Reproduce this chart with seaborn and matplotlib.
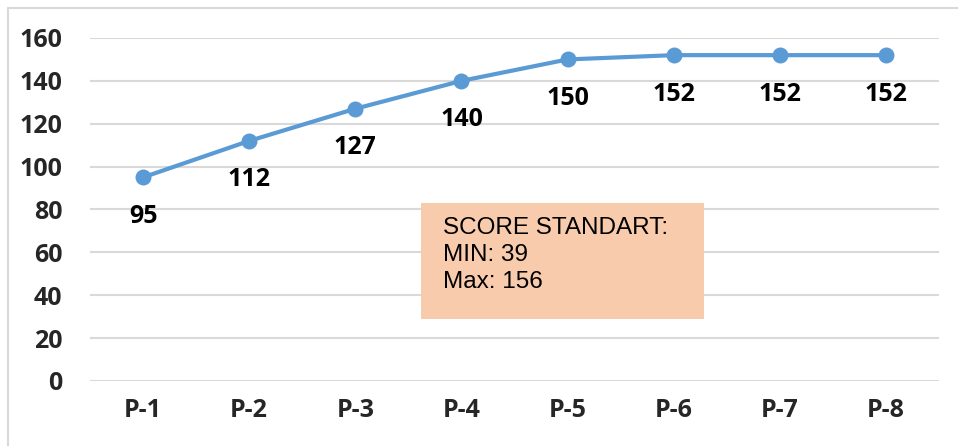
import numpy as np
import pandas as pd
import matplotlib
matplotlib.use('Agg')
import matplotlib.pyplot as plt
from matplotlib.lines import Line2D
import seaborn as sns

# Chart data
categories = ['P-1', 'P-2', 'P-3', 'P-4', 'P-5', 'P-6', 'P-7', 'P-8']
scores = [95, 112, 127, 140, 150, 152, 152, 152]
y_ticks = [0, 20, 40, 60, 80, 100, 120, 140, 160]
note_lines = ['SCORE STANDART:', 'MIN: 39', 'Max: 156']

df = pd.DataFrame({'x': np.arange(len(categories)), 'score': scores})

sns.set_style('white')
plt.rcParams['font.family'] = ['Open Sans', 'DejaVu Sans']

fig = plt.figure(figsize=(9.58, 4.46), dpi=100)
ax = fig.add_axes([90 / 958, 1 - 381 / 446, (939 - 90) / 958, (381 - 38) / 446])

line_color = '#5B9BD5'
sns.lineplot(data=df, x='x', y='score', ax=ax, color=line_color, linewidth=3,
             marker='o', markersize=11.5, markeredgewidth=0, zorder=3)

lab_size = 18

# Data labels below the points
for i, v in enumerate(scores):
    ax.annotate(str(v), (i, v), xytext=(0, -28), textcoords='offset points',
                ha='center', va='center', fontsize=lab_size, fontweight='bold', color='black')

ax.set_xlim(-0.5, len(categories) - 0.5)
ax.set_ylim(0, 160)
ax.set_xticks(range(len(categories)))
ax.set_xticklabels(categories, fontsize=lab_size, fontweight='bold')
ax.set_yticks(y_ticks)
ax.set_yticklabels([str(t) for t in y_ticks], fontsize=lab_size, fontweight='bold')
ax.tick_params(axis='x', length=0, pad=12)
ax.tick_params(axis='y', length=0, pad=20)
ax.set_xlabel('')
ax.set_ylabel('')
ax.yaxis.grid(True, color='#D9D9D9', linewidth=1.5)
ax.xaxis.grid(False)
for s in ax.spines.values():
    s.set_visible(False)
ax.set_axisbelow(True)

# Note box
fig.patches.append(plt.Rectangle((421 / 958, 1 - 319 / 446), (704 - 421) / 958, (319 - 203) / 446,
                                 transform=fig.transFigure, facecolor='#F8CBAD', edgecolor='none',
                                 zorder=5))
for k, t in enumerate(note_lines):
    fig.text(443 / 958, 1 - (228 + 27 * k) / 446, t, fontsize=17.5, va='center', ha='left',
             family=['Liberation Sans', 'DejaVu Sans'], color='black', zorder=6)

# Outer chart border (top and left visible)
fig.add_artist(Line2D([8 / 958, 1], [1 - 8 / 446, 1 - 8 / 446], transform=fig.transFigure,
                      color='#D9D9D9', linewidth=1.5))
fig.add_artist(Line2D([8 / 958, 8 / 958], [0, 1 - 8 / 446], transform=fig.transFigure,
                      color='#D9D9D9', linewidth=1.5))

fig.savefig('out.png', dpi=100)
plt.close(fig)
